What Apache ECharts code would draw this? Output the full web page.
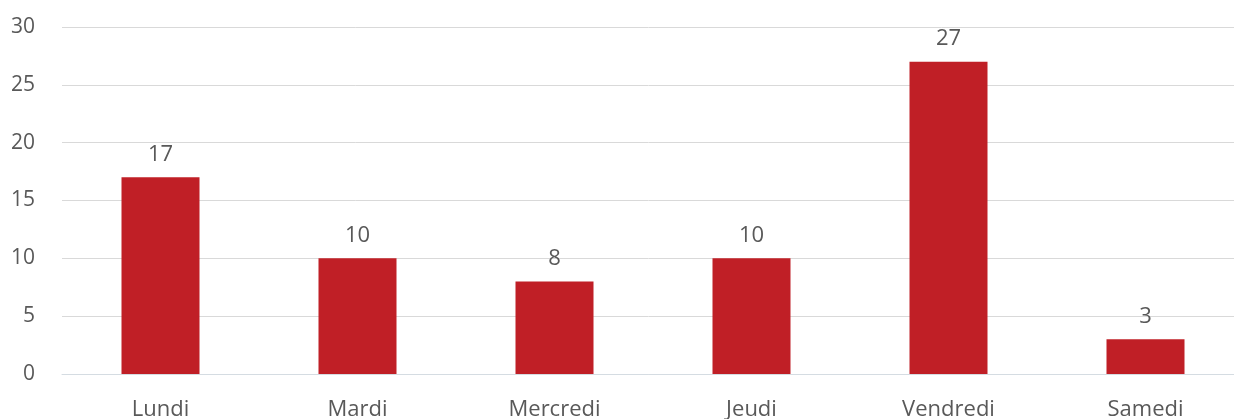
<!DOCTYPE html>
<html lang="fr">
<head>
  <meta charset="UTF-8">
  <title>Jours</title>
  <style>
    html, body { margin: 0; padding: 0; background: #fff; }
  </style>
</head>
<body>
  <div id="main" style="width: 1234px; height: 419px"></div>

  <script src="https://cdn.jsdelivr.net/npm/echarts@6/dist/echarts.min.js"></script>
  <script>
    const jours = ["Lundi", "Mardi", "Mercredi", "Jeudi", "Vendredi", "Samedi"]
    const valeurs = [17, 10, 8, 10, 27, 3]
    const yTicks = { min: 0, max: 30, interval: 5 }

    const police = "'Open Sans', sans-serif"
    const gris = "#595959"

    let myChart = echarts.init(document.getElementById('main'))

    let option = {
      animation: false,
      grid: { left: 62, top: 27, width: 1182, height: 347, outerBoundsMode: "none" },
      xAxis: {
        type: "category",
        data: jours,
        axisTick: { show: false },
        axisLine: { lineStyle: { color: "#D5DCE2", width: 1 } },
        axisLabel: { color: gris, fontSize: 22, fontFamily: police, margin: 25 }
      },
      yAxis: {
        type: "value",
        min: yTicks.min,
        max: yTicks.max,
        interval: yTicks.interval,
        axisLine: { show: false },
        axisTick: { show: false },
        splitLine: { lineStyle: { color: "#D9D9D9", width: 1 } },
        axisLabel: { color: gris, fontSize: 21, fontFamily: police, margin: 27 }
      },
      series: [
        {
          type: "bar",
          data: valeurs,
          barWidth: 78,
          itemStyle: { color: "#C01F26" },
          label: {
            show: true,
            position: "top",
            distance: 12,
            color: gris,
            fontSize: 22,
            fontFamily: police
          }
        }
      ]
    }

    myChart.setOption(option)
  </script>
</body>
</html>
